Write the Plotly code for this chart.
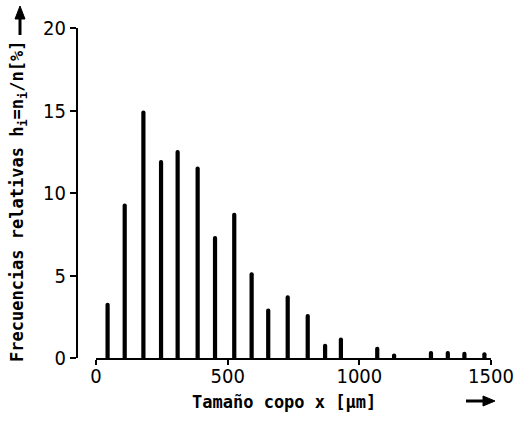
import plotly.graph_objects as go

sizes_um = [44, 109, 180, 247, 310, 386, 452, 525, 591, 654, 728, 804, 870, 930,
            1068, 1132, 1272, 1336, 1399, 1475]
freq_pct = [3.35, 9.37, 15.0, 12.0, 12.6, 11.6, 7.4, 8.8, 5.2, 3.0, 3.8, 2.67, 0.87, 1.25,
            0.68, 0.28, 0.42, 0.43, 0.38, 0.35]
x_ticks = [0, 500, 1000, 1500]
y_ticks = [0, 5, 10, 15, 20]

W, H = 514, 424
tick_font = dict(family="DejaVu Sans Condensed, Liberation Sans Narrow, DejaVu Sans",
                 size=20, color="black")
label_font = dict(family="DejaVu Sans Mono, Liberation Mono, monospace", size=17, color="black")

fig = go.Figure()
fig.add_trace(go.Bar(x=sizes_um, y=freq_pct, width=16,
                     marker=dict(color="black", line=dict(width=0), cornerradius=2)))

fig.update_layout(
    width=W, height=H,
    margin=dict(l=0, r=0, t=0, b=0),
    paper_bgcolor="white", plot_bgcolor="white",
    showlegend=False,
    xaxis=dict(domain=[96 / W, 491 / W], range=[0, 1500], tickvals=x_ticks,
               ticktext=[str(v) for v in x_ticks],
               showgrid=False, zeroline=False, showline=True, linecolor="black", linewidth=2,
               ticks="outside", ticklen=5, tickwidth=1.5, tickcolor="black",
               ticklabelstandoff=-6,
               tickfont=tick_font, automargin=False, anchor="y"),
    yaxis=dict(domain=[(H - 358) / H, (H - 28) / H], range=[0, 20], tickvals=y_ticks,
               ticktext=[str(v) for v in y_ticks],
               showgrid=False, zeroline=False, showline=True, linecolor="black", linewidth=2,
               ticks="outside", ticklen=6, tickwidth=1.5, tickcolor="black",
               tickfont=tick_font, automargin=False, anchor="free", position=77 / W),
)

# axis titles as annotations
fig.add_annotation(xref="paper", yref="paper", x=284 / W, y=(H - 402) / H,
                   text="<b>Tamaño copo x [µm]</b>", showarrow=False, font=label_font,
                   xanchor="center", yanchor="middle")
fig.add_annotation(xref="paper", yref="paper", x=19 / W, y=(H - 202) / H,
                   text="<b>Frecuencias relativas h<sub>i</sub>=n<sub>i</sub>/n[%]</b>",
                   showarrow=False, font=label_font, textangle=-90,
                   xanchor="center", yanchor="middle")


def px(xp, yp):
    return xp / W, (H - yp) / H


# direction arrows drawn as shapes (paper coordinates)
x0, y0 = px(466, 401)
x1, y1 = px(484, 401)
fig.add_shape(type="line", xref="paper", yref="paper", x0=x0, y0=y0, x1=x1, y1=y1,
              line=dict(color="black", width=3))
a, b = px(483, 396)
c, d = px(495, 401)
e, f = px(483, 406)
fig.add_shape(type="path", xref="paper", yref="paper",
              path=f"M {a} {b} L {c} {d} L {e} {f} Z", fillcolor="black",
              line=dict(color="black", width=1))

x0, y0 = px(20, 35)
x1, y1 = px(20, 18)
fig.add_shape(type="line", xref="paper", yref="paper", x0=x0, y0=y0, x1=x1, y1=y1,
              line=dict(color="black", width=3))
a, b = px(15, 19)
c, d = px(20, 6)
e, f = px(25, 19)
fig.add_shape(type="path", xref="paper", yref="paper",
              path=f"M {a} {b} L {c} {d} L {e} {f} Z", fillcolor="black",
              line=dict(color="black", width=1))

fig.write_html("out.html")
